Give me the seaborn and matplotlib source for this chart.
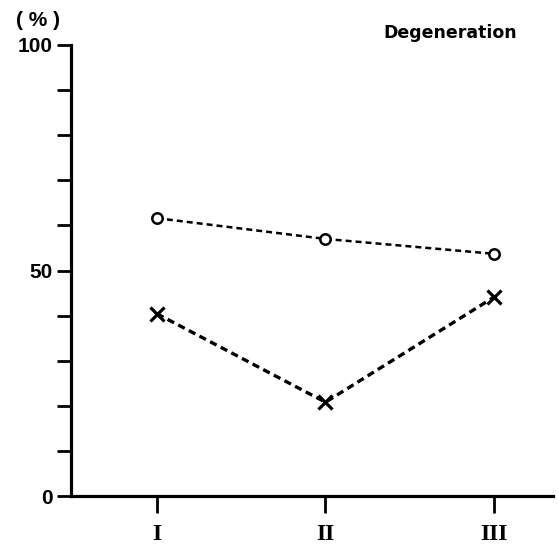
import matplotlib
matplotlib.use("Agg")
import matplotlib.pyplot as plt
import seaborn as sns
import pandas as pd

categories = ["I", "II", "III"]
circle_values = [61.6, 57.0, 53.7]
cross_values = [40.4, 20.8, 44.1]
y_tick_labels = {0: "0", 50: "50", 100: "100"}

sns.set_theme(style="white")
plt.rcParams['font.family'] = ['Liberation Sans', 'DejaVu Sans']
plt.rcParams['text.color'] = 'black'
plt.rcParams['xtick.color'] = 'black'
plt.rcParams['ytick.color'] = 'black'

pos = list(range(len(categories)))
df_c = pd.DataFrame({"x": pos, "y": circle_values})
df_x = pd.DataFrame({"x": pos, "y": cross_values})

fig = plt.figure(figsize=(5.58, 5.49), dpi=100)
ax = fig.add_axes([71/558, 1 - 496/549, (553 - 71)/558, (496 - 45)/549])

sns.lineplot(data=df_c, x="x", y="y", ax=ax, color="black", lw=1.8,
             linestyle=(0, (2.4, 1.6)), marker="o", markersize=7.5,
             markerfacecolor="white", markeredgecolor="black", markeredgewidth=1.8)
sns.lineplot(data=df_x, x="x", y="y", ax=ax, color="black", lw=2.4,
             linestyle=(0, (2.2, 1.4)), marker="x", markersize=10,
             markeredgecolor="black", markeredgewidth=2.3)

ax.set_xlim(-0.51, 2.35)
ax.set_ylim(0, 100)
ax.set_xlabel("")
ax.set_ylabel("")

ax.set_yticks(list(range(0, 101, 10)))
ax.set_yticklabels([y_tick_labels.get(v, "") for v in range(0, 101, 10)],
                   fontsize=15, fontweight="bold", color="black")
ax.set_xticks(pos)
ax.set_xticklabels(categories, fontsize=17, family="Liberation Serif",
                   fontweight="bold", color="black")

for s in ["top", "right"]:
    ax.spines[s].set_visible(False)
for s in ["left", "bottom"]:
    ax.spines[s].set_linewidth(2.3)
    ax.spines[s].set_color("black")

ax.tick_params(axis="y", direction="out", length=10, width=2, color="black",
               pad=3, left=True)
ax.tick_params(axis="x", direction="out", length=12, width=2, color="black",
               pad=8, bottom=True)

fig.text(38/558, 1 - 20/549, "( % )", fontsize=15, fontweight="bold",
         ha="center", va="center", color="black")
fig.text(450/558, 1 - 33/549, "Degeneration", fontsize=12.5, fontweight="bold",
         ha="center", va="center", family="DejaVu Sans", color="black")

fig.savefig("out.png", dpi=100)
